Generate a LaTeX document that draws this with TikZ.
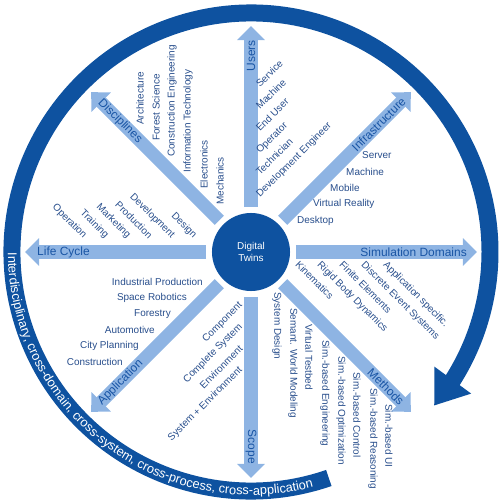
\documentclass[tikz,border=0pt]{standalone}
\usepackage{fontspec}
\setmainfont{Liberation Sans}
\usetikzlibrary{arrows.meta, bending, decorations.text}
\definecolor{ringblue}{RGB}{14,82,160}
\definecolor{spokeblue}{RGB}{142,180,227}
\definecolor{labelblue}{RGB}{25,85,165}
\definecolor{itemblue}{RGB}{40,78,140}
\def\tipr{226}

\begin{document}
\begin{tikzpicture}[x=0.03cm, y=0.03cm]
    \tikzstyle{spoke}=[draw=spokeblue, line width=11.1pt, -{Triangle[width=23pt, length=12pt]}]
    \tikzstyle{twin}=[circle, fill=ringblue, text=white, minimum size=66.6pt, inner sep=0pt, outer sep=5pt, align=center, font=\fontsize{8.5}{10.2}\selectfont]
    \tikzstyle{cat}=[text=labelblue, inner sep=0pt, font=\fontsize{10.2}{12}\selectfont]
    \tikzstyle{item}=[text=itemblue, inner sep=0pt, font=\fontsize{8.5}{10}\selectfont]
    \tikzstyle{ring}=[draw=ringblue, line width=14.5pt, -{Triangle[width=37pt, length=27pt, flex]}]

    \useasboundingbox (-251,-248) rectangle (249,252);

    % Draw the outer ring
    \draw[ring] (289:239) arc[start angle=289, end angle=-40, radius=239];
    \path[decorate, decoration={text along path, text align=center,
        text={|\color{white}\fontsize{10.9}{12}\selectfont|Interdisciplinary, cross-domain, cross-system, cross-process, cross-application}}]
        (180:243) arc[start angle=180, end angle=285, radius=243];

    % Draw the centre node
    \node[twin] (dt) at (0,0) {Digital\\Twins};

    % Draw the spokes
    \coordinate (users-tip) at (90:\tipr);
    \coordinate (infra-tip) at (45:\tipr);
    \coordinate (sim-tip) at (0:\tipr);
    \coordinate (meth-tip) at (-45:\tipr);
    \coordinate (scope-tip) at (-90:\tipr);
    \coordinate (appl-tip) at (-135:\tipr);
    \coordinate (life-tip) at (180:\tipr);
    \coordinate (disc-tip) at (135:\tipr);

    \draw[spoke] (dt) -- (users-tip);
    \draw[spoke] (dt) -- (infra-tip);
    \draw[spoke] (dt) -- (sim-tip);
    \draw[spoke] (dt) -- (meth-tip);
    \draw[spoke] (dt) -- (scope-tip);
    \draw[spoke] (dt) -- (appl-tip);
    \draw[spoke] (dt) -- (life-tip);
    \draw[spoke] (dt) -- (disc-tip);

    % Labels on the spokes
    \node[cat, rotate=90, anchor=east] (users) at (90:212) {Users};
    \node[cat, rotate=45, anchor=east] (infra) at (45:216) {Infrastructure};
    \node[cat, anchor=east] (sim) at (0:216) {Simulation Domains};
    \node[cat, rotate=-45, anchor=east] (meth) at (-45:214) {Methods};
    \node[cat, rotate=-90, anchor=east] (scope) at (-90:212) {Scope};
    \node[cat, rotate=45, anchor=west] (appl) at (-135:214) {Application};
    \node[cat, anchor=west] (life) at (180:214) {Life Cycle};
    \node[cat, rotate=-45, anchor=west] (disc) at (135:214) {Disciplines};

    % Users
    \node[item, rotate=45, anchor=base west] (u-1) at (9,164) {Service};
    \node[item, rotate=45, anchor=base west] (u-2) at (9,142) {Machine};
    \node[item, rotate=45, anchor=base west] (u-3) at (9,120) {End User};
    \node[item, rotate=45, anchor=base west] (u-4) at (9,98) {Operator};
    \node[item, rotate=45, anchor=base west] (u-5) at (9,76) {Technician};
    \node[item, rotate=45, anchor=base west] (u-6) at (9,54) {Development Engineer};

    % Infrastructure
    \node[item, anchor=west] (i-1) at (111,97) {Server};
    \node[item, anchor=west] (i-2) at (95,80) {Machine};
    \node[item, anchor=west] (i-3) at (79,64) {Mobile};
    \node[item, anchor=west] (i-4) at (62,48) {Virtual Reality};
    \node[item, anchor=west] (i-5) at (46,31) {Desktop};

    % Simulation Domains
    \node[item, rotate=-45, anchor=north west] (s-1) at (137,-8) {Application specific.};
    \node[item, rotate=-45, anchor=north west] (s-2) at (115,-8) {Discrete Event Systems};
    \node[item, rotate=-45, anchor=north west] (s-3) at (93,-8) {Finite Elements};
    \node[item, rotate=-45, anchor=north west] (s-4) at (71,-8) {Rigid Body Dynamics};
    \node[item, rotate=-45, anchor=north west] (s-5) at (49,-8) {Kinematics};

    % Methods
    \node[item, rotate=-90, anchor=west] (m-1) at (26,-40) {System Design};
    \node[item, rotate=-90, anchor=west] (m-2) at (42,-56) {Semant. World Modeling};
    \node[item, rotate=-90, anchor=west] (m-3) at (58,-72) {Virtual Testbed};
    \node[item, rotate=-90, anchor=west] (m-4) at (74,-88) {Sim.-based Engineering};
    \node[item, rotate=-90, anchor=west] (m-5) at (90,-104) {Sim.-based Optimization};
    \node[item, rotate=-90, anchor=west] (m-6) at (106,-120) {Sim.-based Control};
    \node[item, rotate=-90, anchor=west] (m-7) at (122,-136) {Sim.-based Reasoning};
    \node[item, rotate=-90, anchor=west] (m-8) at (138,-152) {Sim.-based UI};

    % Scope
    \node[item, rotate=45, anchor=east] (sc-1) at (-10,-52) {Component};
    \node[item, rotate=45, anchor=east] (sc-2) at (-10,-73.5) {Complete System};
    \node[item, rotate=45, anchor=east] (sc-3) at (-10,-95) {Environment};
    \node[item, rotate=45, anchor=east] (sc-4) at (-10,-116.5) {System + Environment};

    % Application
    \node[item, anchor=east] (a-1) at (-48,-30) {Industrial Production};
    \node[item, anchor=east] (a-2) at (-64,-46) {Space Robotics};
    \node[item, anchor=east] (a-3) at (-80,-62) {Forestry};
    \node[item, anchor=east] (a-4) at (-96,-78) {Automotive};
    \node[item, anchor=east] (a-5) at (-112,-94) {City Planning};
    \node[item, anchor=east] (a-6) at (-128,-110) {Construction};

    % Life Cycle
    \node[item, rotate=-45, anchor=east] (l-1) at (-56,15) {Design};
    \node[item, rotate=-45, anchor=east] (l-2) at (-78,15) {Development};
    \node[item, rotate=-45, anchor=east] (l-3) at (-100,15) {Production};
    \node[item, rotate=-45, anchor=east] (l-4) at (-122,15) {Marketing};
    \node[item, rotate=-45, anchor=east] (l-5) at (-144,15) {Training};
    \node[item, rotate=-45, anchor=east] (l-6) at (-166,15) {Operation};

    % Disciplines
    \node[item, rotate=90, anchor=west] (d-1) at (-31,47) {Mechanics};
    \node[item, rotate=90, anchor=west] (d-2) at (-47,63) {Electronics};
    \node[item, rotate=90, anchor=west] (d-3) at (-63,79) {Information Technology};
    \node[item, rotate=90, anchor=west] (d-4) at (-79,95) {Construction Engineering};
    \node[item, rotate=90, anchor=west] (d-5) at (-95,111) {Forest Science};
    \node[item, rotate=90, anchor=west] (d-6) at (-111,127) {Architecture};
\end{tikzpicture}
\end{document}
